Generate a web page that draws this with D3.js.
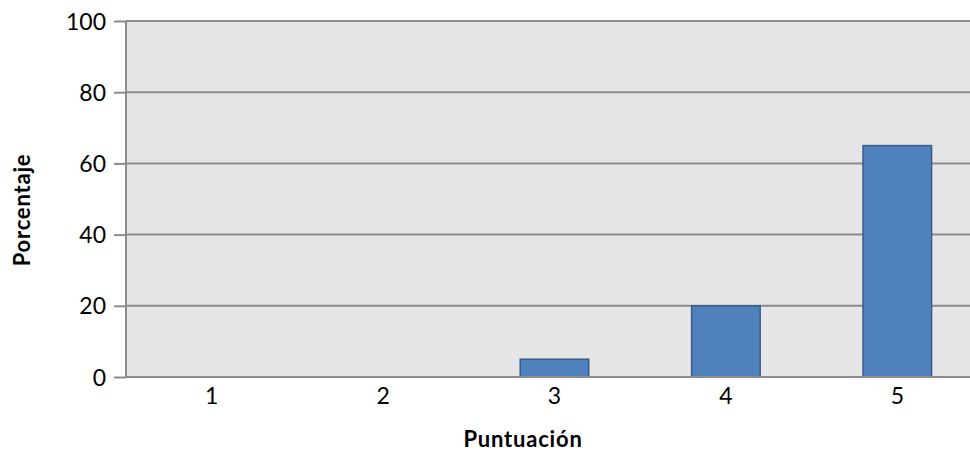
<!DOCTYPE html>
<html><head><meta charset="utf-8">
<script src="https://cdn.jsdelivr.net/npm/d3@7"></script>
<style>body{margin:0;background:#fff}svg{display:block;font-family:Lato,"Open Sans",sans-serif}</style>
</head><body><svg id="c" width="970" height="452"></svg>
<script>
const categories = ["1","2","3","4","5"];
const values = [0,0,5,20,65];
const yTicks = [0,20,40,60,80,100];
const xTitle = "Puntuación";
const yTitle = "Porcentaje";

const svg = d3.select("#c");
const m = {l:126, r:983, t:21, b:377};
const x = d3.scaleBand().domain(categories).range([m.l,m.r]).paddingInner(0.6).paddingOuter(0.3);
const xc = d3.scaleBand().domain(categories).range([m.l,m.r]);
const y = d3.scaleLinear().domain([0,100]).range([m.b,m.t]);

svg.append("rect").attr("x",m.l).attr("y",m.t).attr("width",m.r-m.l).attr("height",m.b-m.t).attr("fill","#e6e6e6");

// gridlines
svg.append("g").selectAll("line").data(yTicks.filter(d=>d>0)).join("line")
  .attr("x1",m.l).attr("x2",m.r).attr("y1",d=>y(d)).attr("y2",d=>y(d))
  .attr("stroke","#8c8c8c").attr("stroke-width",2);

// bars
const barData = values.map((v,i)=>({c:categories[i],v})).filter(d=>d.v>0);
svg.append("g").selectAll("rect").data(barData).join("rect")
  .attr("x",d=>x(d.c)).attr("y",d=>y(d.v)).attr("width",x.bandwidth()).attr("height",d=>y(0)-y(d.v))
  .attr("fill","#4f81bd").attr("stroke","#385d8a").attr("stroke-width",1.5);

// y axis
const ya = d3.axisLeft(y).tickValues(yTicks).tickSize(12).tickPadding(8).tickFormat(d3.format("d"));
const gy = svg.append("g").attr("transform",`translate(${m.l},0)`).call(ya);
gy.attr("font-size",23).attr("font-family","Lato");
gy.select(".domain").attr("stroke","#8c8c8c").attr("stroke-width",2).attr("d",`M0,${m.t}V${m.b}`);
gy.selectAll(".tick line").attr("stroke","#8c8c8c").attr("stroke-width",2);
gy.selectAll(".tick text").attr("fill","#000").attr("dy","0.35em");

// x axis
const xa = d3.axisBottom(xc).tickSize(0).tickPadding(11);
const gx = svg.append("g").attr("transform",`translate(0,${m.b})`).call(xa);
gx.attr("font-size",23).attr("font-family","Lato");
gx.select(".domain").attr("stroke","#8c8c8c").attr("stroke-width",2).attr("d",`M${m.l},0H${m.r}`);
gx.selectAll(".tick text").attr("fill","#000");

svg.append("text").attr("x",523).attr("y",447).attr("text-anchor","middle")
  .attr("font-size",22).attr("font-weight","bold").attr("letter-spacing",0.8).text(xTitle);
svg.append("text").attr("transform",`translate(30,210) rotate(-90)`).attr("text-anchor","middle")
  .attr("font-size",22).attr("font-weight","bold").attr("letter-spacing",0.8).text(yTitle);
</script></body></html>
